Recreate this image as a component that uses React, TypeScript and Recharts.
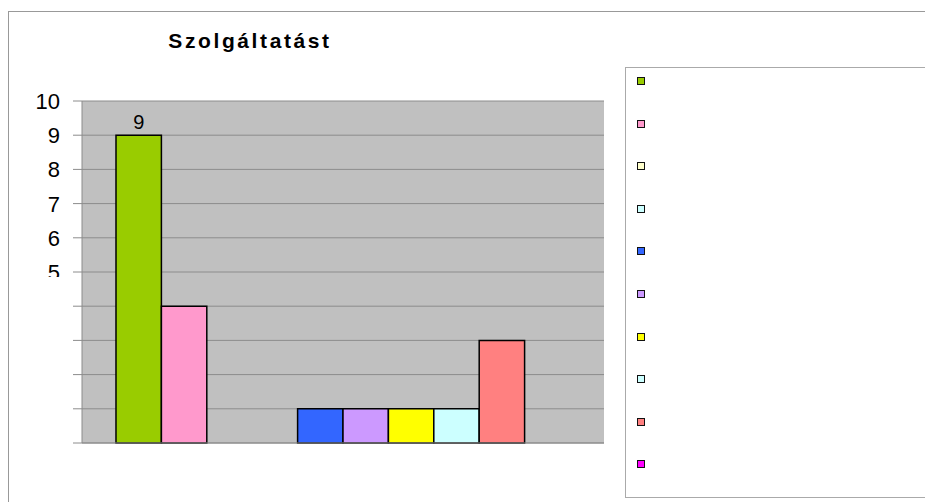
import { BarChart, Bar, XAxis, YAxis, CartesianGrid, Legend } from 'recharts'

const categories = ['Szolgáltatást']
const seriesKeys = ['s1', 's2', 's3', 's4', 's5', 's6', 's7', 's8', 's9', 's10']
const seriesValues = [9, 4, 0, 0, 1, 1, 1, 1, 3, 0]
const seriesColors = [
  '#99cc00',
  '#ff99cc',
  '#ffffcc',
  '#ccffff',
  '#3366ff',
  '#cc99ff',
  '#ffff00',
  '#ccffff',
  '#ff8080',
  '#ff00ff',
]
const yTicks = [0, 1, 2, 3, 4, 5, 6, 7, 8, 9, 10]

const rows = categories.map((c) => {
  const row: Record<string, string | number> = { cat: c }
  seriesKeys.forEach((k, i) => (row[k] = seriesValues[i]))
  return row
})

const FONT = '"Liberation Sans", Arial, sans-serif'

// labels below 5 are hidden in the original, and 5 is cut in half
function YTick(props: any) {
  const { x, y, payload } = props
  const v = payload.value
  if (v < 5) return null
  return (
    <g>
      {v === 5 && (
        <defs>
          <clipPath id="clip5">
            <rect x={x - 40} y={y - 25} width={45} height={30} />
          </clipPath>
        </defs>
      )}
      <text
        x={x}
        y={y}
        dy="0.36em"
        textAnchor="end"
        fontSize={22}
        fontFamily={FONT}
        fill="#000"
        clipPath={v === 5 ? 'url(#clip5)' : undefined}
      >
        {v}
      </text>
    </g>
  )
}

function LegendBox(props: any) {
  const items = [...(props.payload || [])].sort(
    (a: any, b: any) => seriesKeys.indexOf(a.dataKey) - seriesKeys.indexOf(b.dataKey)
  )
  return (
    <div
      style={{
        width: 310,
        height: 431,
        boxSizing: 'border-box',
        border: '1px solid #aaa',
        background: '#fff',
        paddingTop: 9,
      }}
    >
      {items.map((it: any) => (
        <div key={it.dataKey} style={{ height: 42.6, position: 'relative' }}>
          <span
            style={{
              position: 'absolute',
              left: 11,
              top: 0,
              width: 6,
              height: 6,
              border: '1.5px solid #111',
              background: it.color,
            }}
          />
        </div>
      ))}
    </div>
  )
}

export default function App() {
  return (
    <div
      style={{
        position: 'absolute',
        left: 0,
        top: 0,
        width: 925,
        height: 502,
        overflow: 'hidden',
        background: '#fff',
        fontFamily: FONT,
      }}
    >
      <div
        style={{
          position: 'absolute',
          left: 8,
          top: 11,
          width: 960,
          height: 560,
          border: '1px solid #999',
        }}
      />
      <div
        style={{
          position: 'absolute',
          left: 100,
          width: 300,
          top: 29,
          textAlign: 'center',
          fontSize: 21,
          fontWeight: 'bold',
          letterSpacing: 2.6,
        }}
      >
        {categories[0]}
      </div>
      <div style={{ position: 'absolute', left: 0, top: 0 }}>
        <BarChart
          width={925}
          height={502}
          data={rows}
          margin={{ top: 101, right: 321, bottom: 49, left: 0 }}
          barSize={45.4}
          barGap={0}
        >
          <CartesianGrid vertical={false} fill="#c0c0c0" stroke="#8c8c8c" strokeWidth={1} />
          <XAxis
            dataKey="cat"
            height={10}
            tick={false}
            tickLine={false}
            axisLine={{ stroke: '#8c8c8c' }}
          />
          <YAxis
            width={82}
            domain={[0, 10]}
            ticks={yTicks}
            interval={0}
            tickSize={9}
            tickMargin={13}
            tick={<YTick />}
            tickLine={{ stroke: '#8c8c8c' }}
            axisLine={{ stroke: '#8c8c8c' }}
          />
          <YAxis
            yAxisId="frame"
            orientation="right"
            width={0}
            domain={[0, 10]}
            tick={false}
            tickLine={false}
            axisLine={{ stroke: '#8c8c8c' }}
          />
          <Legend
            layout="vertical"
            align="center"
            verticalAlign="middle"
            content={<LegendBox />}
            wrapperStyle={{ left: 625, top: 67, width: 310, height: 431 }}
          />
          {seriesKeys.map((k, i) => (
            <Bar
              key={k}
              dataKey={k}
              fill={seriesColors[i]}
              stroke="#000"
              strokeWidth={1.5}
              isAnimationActive={false}
              label={
                i === 0
                  ? { position: 'top', fill: '#000', fontSize: 20, fontFamily: FONT, offset: 6 }
                  : undefined
              }
            />
          ))}
        </BarChart>
      </div>
    </div>
  )
}
